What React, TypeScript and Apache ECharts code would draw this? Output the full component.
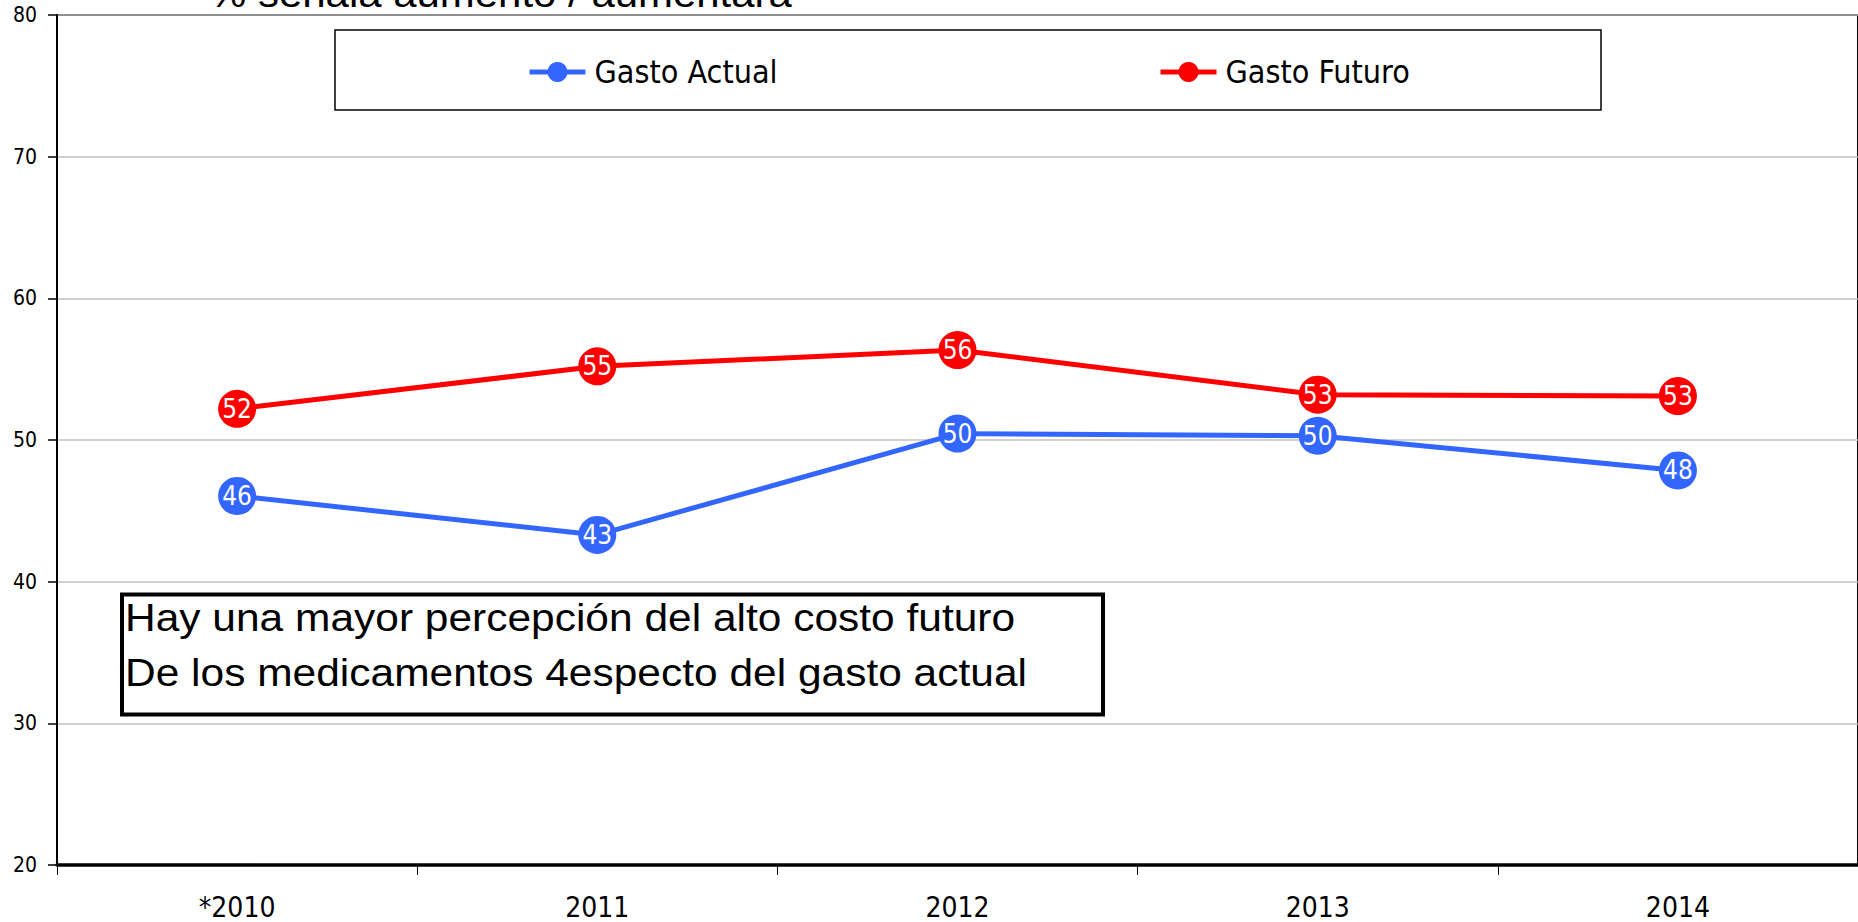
import React, { useEffect, useRef } from "react";
import * as echarts from "echarts";

const categories = ["*2010", "2011", "2012", "2013", "2014"];
const gastoActual = [46.05, 43.3, 50.45, 50.3, 47.85];
const gastoFuturo = [52.2, 55.2, 56.35, 53.2, 53.1];
const seriesNames = ["Gasto Actual", "Gasto Futuro"];
const titleText = "% señala aumento / aumentará";
const noteLines = [
  "Hay una mayor percepción del alto costo futuro",
  "De los medicamentos 4especto del gasto actual",
];

const TAHOMA = "'DejaVu Sans Condensed', 'Liberation Sans', sans-serif";
const ARIAL = "'Liberation Sans', Arial, sans-serif";

export default function App() {
  const ref = useRef<HTMLDivElement>(null);
  useEffect(() => {
    if (!ref.current) return;
    const chart = echarts.init(ref.current, null, { renderer: "svg" });
    const labelCfg = {
      show: true,
      position: "inside",
      color: "#fff",
      fontSize: 26,
      fontFamily: TAHOMA,
      formatter: (p: any) => String(Math.round(p.value)),
    };
    const legendBase = {
      top: 51,
      itemWidth: 56,
      itemHeight: 25,
      lineStyle: { width: 5 },
      textStyle: { fontSize: 32, color: "#000", fontFamily: TAHOMA, padding: [0, 0, 0, 4] },
    };
    chart.setOption({
      animation: false,
      grid: {
        left: 57,
        right: -3,
        top: 15,
        bottom: 57,
        show: true,
        borderColor: "#000",
        borderWidth: 2,
      },
      xAxis: {
        type: "category",
        data: categories,
        boundaryGap: true,
        axisLine: { lineStyle: { color: "#000", width: 3.5 } },
        axisTick: { show: true, length: 10, lineStyle: { color: "#000", width: 1 } },
        axisLabel: { fontSize: 28, color: "#000", margin: 28, fontFamily: TAHOMA },
      },
      yAxis: {
        type: "value",
        min: 20,
        max: 80,
        interval: 10,
        axisLine: { show: true, lineStyle: { color: "#000", width: 2 } },
        axisTick: { show: true, length: 9, lineStyle: { color: "#000", width: 1.5 } },
        axisLabel: { fontSize: 21, color: "#000", margin: 20, fontFamily: TAHOMA },
        splitLine: { lineStyle: { color: "#c0c0c0", width: 1.5 } },
      },
      legend: [
        { ...legendBase, left: 522, data: [seriesNames[0]] },
        { ...legendBase, left: 1153, data: [seriesNames[1]] },
      ],
      series: [
        {
          name: seriesNames[0],
          type: "line",
          data: gastoActual,
          symbol: "circle",
          symbolSize: 38,
          lineStyle: { color: "#3366FF", width: 5 },
          itemStyle: { color: "#3366FF" },
          label: labelCfg,
        },
        {
          name: seriesNames[1],
          type: "line",
          data: gastoFuturo,
          symbol: "circle",
          symbolSize: 38,
          lineStyle: { color: "#FF0000", width: 5 },
          itemStyle: { color: "#FF0000" },
          label: labelCfg,
        },
      ],
      graphic: [
        {
          type: "rect",
          shape: { x: 335, y: 30, width: 1266, height: 80 },
          style: { fill: "none", stroke: "#000", lineWidth: 1.5 },
          z: 10,
        },
        {
          type: "rect",
          shape: { x: 122, y: 594.5, width: 981, height: 120 },
          style: { fill: "#fff", stroke: "#000", lineWidth: 4 },
          z: 10,
        },
        {
          type: "text",
          x: 209,
          y: -5.9,
          scaleX: 1.104,
          z: 11,
          style: {
            text: titleText,
            x: 0,
            y: 0,
            fontSize: 38,
            fontFamily: ARIAL,
            fill: "#000",
            textAlign: "left",
            textVerticalAlign: "middle",
          },
        },
        ...noteLines.map((t, i) => ({
          type: "text",
          x: 125,
          y: 618.2 + i * 54.7,
          scaleX: 1.118,
          z: 11,
          style: {
            text: t,
            x: 0,
            y: 0,
            fontSize: 38,
            fontFamily: ARIAL,
            fill: "#000",
            textAlign: "left",
            textVerticalAlign: "middle",
          },
        })),
      ],
    });
    return () => chart.dispose();
  }, []);
  return (
    <div
      ref={ref}
      style={{ position: "fixed", left: 0, top: 0, width: 1858, height: 922, background: "#fff" }}
    />
  );
}
